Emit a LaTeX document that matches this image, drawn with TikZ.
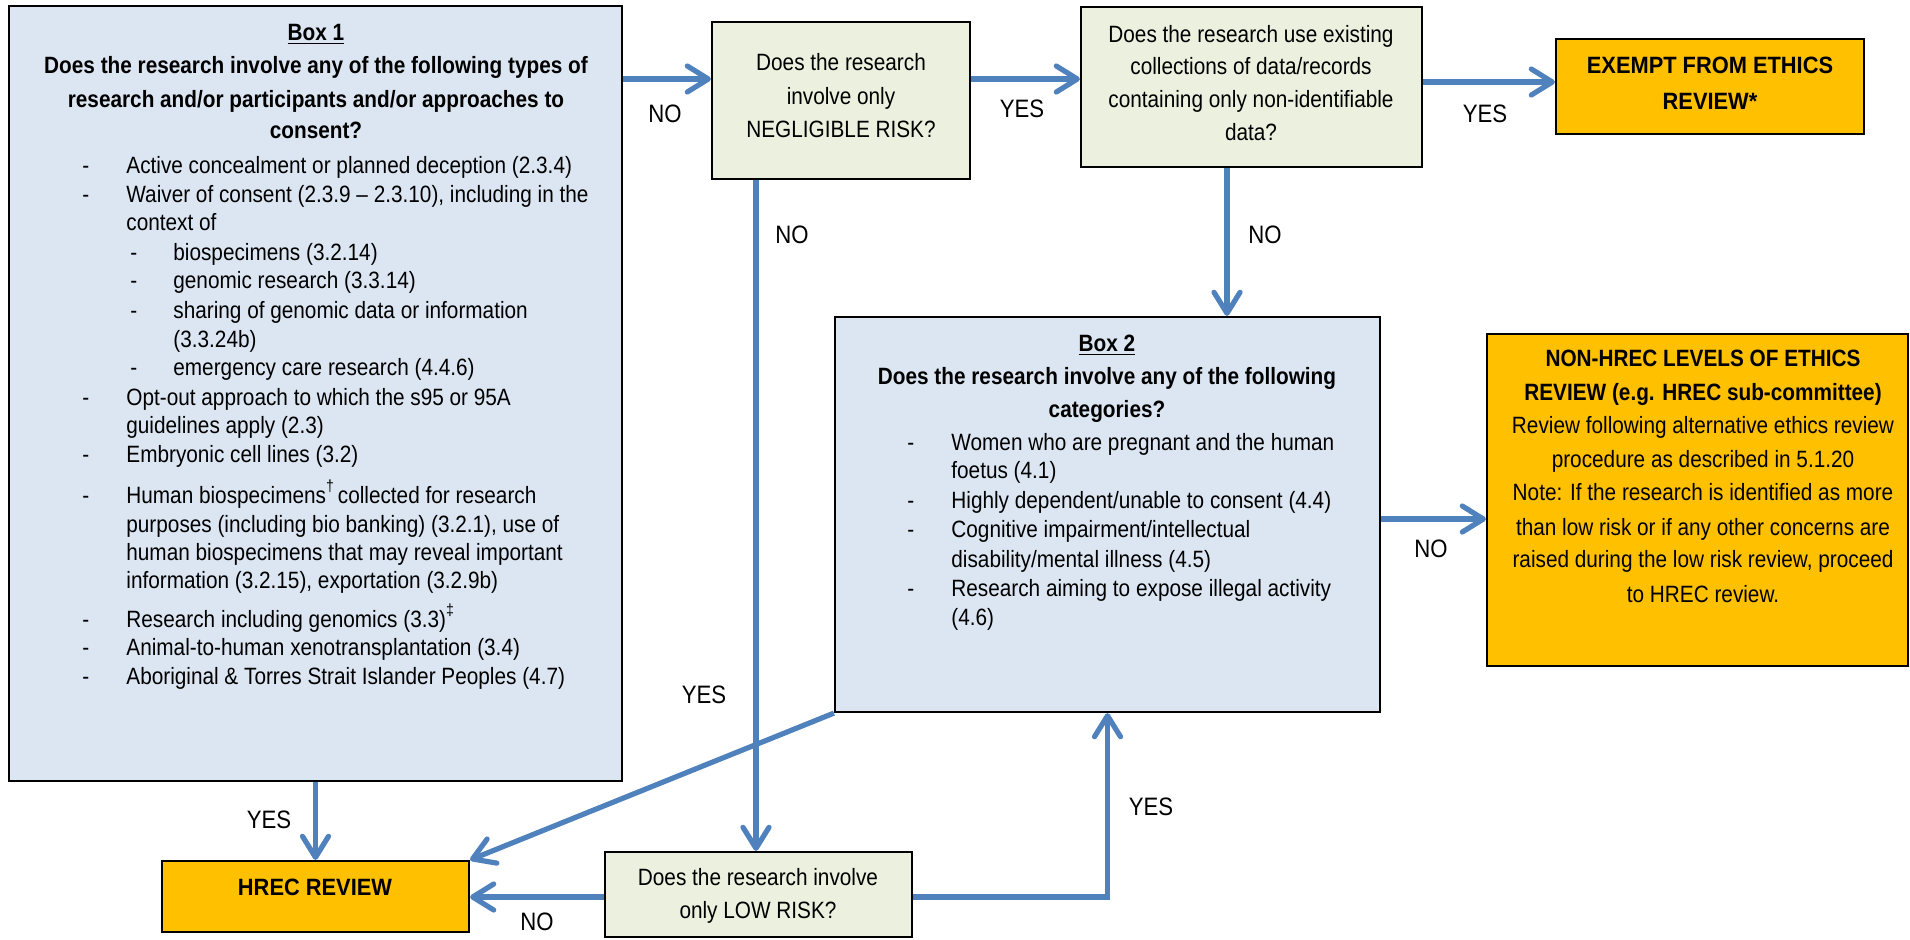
\documentclass[tikz,border=0pt]{standalone}
\usepackage{fontspec}
\setmainfont[FakeStretch=0.88]{Liberation Sans}
\newfontfamily\fB[FakeStretch=0.925]{Liberation Sans}
\newfontfamily\fBt[FakeStretch=0.88]{Liberation Sans}
\usetikzlibrary{arrows.meta,fit}
\definecolor{bluebox}{HTML}{DCE6F2}
\definecolor{greenbox}{HTML}{EBF1DE}
\definecolor{orangebox}{HTML}{FFC000}
\definecolor{arrowblue}{HTML}{4F81BD}
\begin{document}
\begin{tikzpicture}[x=0.5bp,y=-0.5bp,
  box/.style={draw=black,line width=1.1bp,inner sep=0pt},
  bluestyle/.style={box,fill=bluebox},
  greenstyle/.style={box,fill=greenbox},
  orangestyle/.style={box,fill=orangebox},
  txt/.style={inner sep=0pt,font=\fontsize{11.8bp}{14bp}\selectfont},
  ctr/.style={txt,anchor=base},
  lft/.style={txt,anchor=base west},
  btxt/.style={ctr,font=\fontsize{11.8bp}{14bp}\fB\bfseries},
  ttxt/.style={ctr,font=\fontsize{11.8bp}{14bp}\fBt\bfseries},
  lbl/.style={ctr,font=\fontsize{12.6bp}{14bp}\selectfont},
  arr/.style={draw=arrowblue,line width=2.6bp,-{Straight Barb[length=10.5bp,width=13bp,round]}}
]
\useasboundingbox (0,0) rectangle (1910,939);
\fill[white] (0,0) rectangle (1910,939);

% boxes
\node[bluestyle,fit={(9,6)(622,781)}] (box1) {};
\node[greenstyle,fit={(712,22)(970,179)}] (neg) {};
\node[greenstyle,fit={(1081,7)(1422,167)}] (exist) {};
\node[orangestyle,fit={(1556,39)(1864,134)}] (exempt) {};
\node[bluestyle,fit={(835,317)(1380,712)}] (box2) {};
\node[orangestyle,fit={(1487,334)(1908,666)}] (nonhrec) {};
\node[orangestyle,fit={(162,861)(469,932)}] (hrec) {};
\node[greenstyle,fit={(605,852)(912,937)}] (low) {};

% Box 1 text
\node[ttxt] (b1h) at (316,40) {\underline{Box 1}};
\node[ttxt] (b1t1) at (316,73) {Does the research involve any of the following types of};
\node[ttxt] (b1t2) at (316,107) {research and/or participants and/or approaches to};
\node[ttxt] (b1t3) at (316,138) {consent?};

\node[lft] (d1) at (82,173) {-};
\node[lft] (i1) at (126,173) {Active concealment or planned deception (2.3.4)};
\node[lft] (d2) at (82,202) {-};
\node[lft] (i2a) at (126,202) {Waiver of consent (2.3.9 -- 2.3.10), including in the};
\node[lft] (i2b) at (126,230) {context of};
\node[lft] (s1d) at (130,260) {-};
\node[lft] (s1) at (173,260) {biospecimens (3.2.14)};
\node[lft] (s2d) at (130,288) {-};
\node[lft] (s2) at (173,288) {genomic research (3.3.14)};
\node[lft] (s3d) at (130,318) {-};
\node[lft] (s3a) at (173,318) {sharing of genomic data or information};
\node[lft] (s3b) at (173,347) {(3.3.24b)};
\node[lft] (s4d) at (130,375) {-};
\node[lft] (s4) at (173,375) {emergency care research (4.4.6)};
\node[lft] (d3) at (82,405) {-};
\node[lft] (i3a) at (126,405) {Opt-out approach to which the s95 or 95A};
\node[lft] (i3b) at (126,433) {guidelines apply (2.3)};
\node[lft] (d4) at (82,462) {-};
\node[lft] (i4) at (126,462) {Embryonic cell lines (3.2)};
\node[lft] (d5) at (82,503) {-};
\node[lft] (i5a) at (126,503) {Human biospecimens\raisebox{0.9ex}{\fontsize{8bp}{9bp}\selectfont †}\,collected for research};
\node[lft] (i5b) at (126,532) {purposes (including bio banking) (3.2.1), use of};
\node[lft] (i5c) at (126,560) {human biospecimens that may reveal important};
\node[lft] (i5d) at (126,588) {information (3.2.15), exportation (3.2.9b)};
\node[lft] (d6) at (82,627) {-};
\node[lft] (i6) at (126,627) {Research including genomics (3.3)\raisebox{0.9ex}{\fontsize{8bp}{9bp}\selectfont ‡}};
\node[lft] (d7) at (82,655) {-};
\node[lft] (i7) at (126,655) {Animal-to-human xenotransplantation (3.4)};
\node[lft] (d8) at (82,684) {-};
\node[lft] (i8) at (126,684) {Aboriginal \& Torres Strait Islander Peoples (4.7)};

% negligible
\node[ctr] (n1) at (841,70) {Does the research};
\node[ctr] (n2) at (841,104) {involve only};
\node[ctr] (n3) at (841,137) {NEGLIGIBLE RISK?};

% existing
\node[ctr] (e1) at (1251,42) {Does the research use existing};
\node[ctr] (e2) at (1251,74) {collections of data/records};
\node[ctr] (e3) at (1251,107) {containing only non-identifiable};
\node[ctr] (e4) at (1251,140) {data?};

% exempt
\node[btxt] (x1) at (1710,73) {EXEMPT FROM ETHICS};
\node[btxt] (x2) at (1710,109) {REVIEW*};

% Box 2
\node[ttxt] (b2h) at (1107,351) {\underline{Box 2}};
\node[ttxt] (b2t1) at (1107,384) {Does the research involve any of the following};
\node[ttxt] (b2t2) at (1107,417) {categories?};
\node[lft] (k1d) at (907,450) {-};
\node[lft] (k1a) at (951,450) {Women who are pregnant and the human};
\node[lft] (k1b) at (951,478) {foetus (4.1)};
\node[lft] (k2d) at (907,508) {-};
\node[lft] (k2) at (951,508) {Highly dependent/unable to consent (4.4)};
\node[lft] (k3d) at (907,537) {-};
\node[lft] (k3a) at (951,537) {Cognitive impairment/intellectual};
\node[lft] (k3b) at (951,567) {disability/mental illness (4.5)};
\node[lft] (k4d) at (907,596) {-};
\node[lft] (k4a) at (951,596) {Research aiming to expose illegal activity};
\node[lft] (k4b) at (951,625) {(4.6)};

% non-HREC
\node[ttxt] (h1) at (1703,366) {NON-HREC LEVELS OF ETHICS};
\node[ttxt] (h2) at (1703,400) {REVIEW (e.g. HREC sub-committee)};
\node[ctr] (h3) at (1703,433) {Review following alternative ethics review};
\node[ctr] (h4) at (1703,467) {procedure as described in 5.1.20};
\node[ctr] (h5) at (1703,500) {Note: If the research is identified as more};
\node[ctr] (h6) at (1703,535) {than low risk or if any other concerns are};
\node[ctr] (h7) at (1703,567) {raised during the low risk review, proceed};
\node[ctr] (h8) at (1703,602) {to HREC review.};

% HREC
\node[btxt] (r1t) at (315,895) {HREC REVIEW};

% low
\node[ctr] (l1) at (758,885) {Does the research involve};
\node[ctr] (l2) at (758,918) {only LOW RISK?};

% routing coordinates
\coordinate (ya) at (0,79);
\coordinate (yb) at (0,82);
\coordinate (xa) at (756,0);
\coordinate (xb) at (1227,0);
\coordinate (yc) at (0,519);
\coordinate (yd) at (0,897);

% connectors
\draw[arr] (box1.east |- ya) -- (neg.west |- ya);
\draw[arr] (neg.east |- ya) -- (exist.west |- ya);
\draw[arr] (exist.east |- yb) -- (exempt.west |- yb);
\draw[arr] (neg.south -| xa) -- (low.north -| xa);
\draw[arr] (exist.south -| xb) -- (box2.north -| xb);
\draw[arr] (box2.east |- yc) -- (nonhrec.west |- yc);
\draw[arr] (box2.south west) -- (hrec.north east);
\draw[arr] (box1.south -| hrec.north) -- (hrec.north);
\draw[arr] (low.west |- yd) -- (hrec.east |- yd);
\draw[arr] (low.east |- yd) -| (box2.south);

% labels
\node[lbl] (lab1) at (665,122) {NO};
\node[lbl] (lab2) at (1022,117) {YES};
\node[lbl] (lab3) at (1485,122) {YES};
\node[lbl] (lab4) at (792,243) {NO};
\node[lbl] (lab5) at (1265,243) {NO};
\node[lbl] (lab6) at (1431,557) {NO};
\node[lbl] (lab7) at (704,703) {YES};
\node[lbl] (lab8) at (269,828) {YES};
\node[lbl] (lab9) at (537,930) {NO};
\node[lbl] (lab10) at (1151,815) {YES};
\end{tikzpicture}
\end{document}
